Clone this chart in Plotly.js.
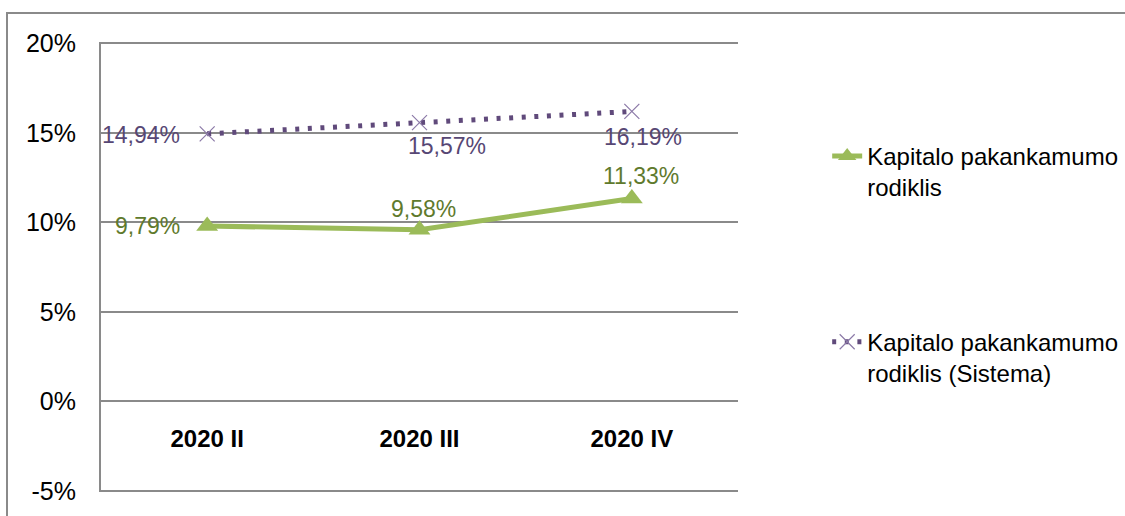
<!DOCTYPE html>
<html>
<head>
<meta charset="utf-8">
<script src="https://cdn.plot.ly/plotly-3.0.1.min.js"></script>
<style>
  html, body { margin: 0; padding: 0; background: #fff; }
  #chart { width: 1125px; height: 516px; }
</style>
</head>
<body>
<div id="chart"></div>
<script>
// ---- data ----
const categories = ['2020 II', '2020 III', '2020 IV'];
const bankValues = [9.79, 9.58, 11.33];
const systemValues = [14.94, 15.57, 16.19];
const seriesNames = ['Kapitalo pakankamumo<br>rodiklis', 'Kapitalo pakankamumo<br>rodiklis (Sistema)'];
const yTickValues = [-5, 0, 5, 10, 15, 20];
const yTickLabels = ['-5%', '0%', '5%', '10%', '15%', '20%'];

// ---- styles ----
const FONT = 'Liberation Sans, Arial, sans-serif';
const GREEN = '#9bbb59';
const GREEN_TXT = '#5f7a2d';
const PURPLE = '#604a7b';
const PURPLE_TXT = '#574774';
const GRID = '#8a8a8a';
const bankLabelShift = [[-60, 0], [4, 21], [9, 22]];
const systemLabelShift = [[-66, -1], [27, -23], [11, -26]];

const fmt = v => v.toFixed(2).replace('.', ',') + '%';

const traces = [
  {
    type: 'scatter', mode: 'lines+markers',
    x: categories, y: bankValues, name: seriesNames[0],
    line: { color: GREEN, width: 5 },
    marker: { symbol: 'triangle-up', size: 19, color: GREEN },
    legend: 'legend'
  },
  {
    type: 'scatter', mode: 'lines+markers',
    x: categories, y: systemValues, name: seriesNames[1],
    line: { color: PURPLE, width: 5, dash: '4px,8.6px' },
    marker: { symbol: 'x-thin', size: 15, color: '#8c7aa8', line: { color: '#8c7aa8', width: 1.2 } },
    legend: 'legend2'
  }
];

const annotations = [];
categories.forEach((c, i) => {
  annotations.push({
    x: c, y: bankValues[i], xref: 'x', yref: 'y', text: fmt(bankValues[i]),
    showarrow: false, xshift: bankLabelShift[i][0], yshift: bankLabelShift[i][1],
    font: { family: FONT, size: 23, color: GREEN_TXT }
  });
  annotations.push({
    x: c, y: systemValues[i], xref: 'x', yref: 'y', text: fmt(systemValues[i]),
    showarrow: false, xshift: systemLabelShift[i][0], yshift: systemLabelShift[i][1],
    font: { family: FONT, size: 23, color: PURPLE_TXT }
  });
});

const legendBase = {
  xanchor: 'left', yanchor: 'top', valign: 'top',
  bgcolor: 'rgba(0,0,0,0)', borderwidth: 0,
  font: { family: FONT, size: 24, color: '#000' }
};

const layout = {
  width: 1125, height: 516,
  margin: { l: 101, r: 387, t: 42, b: 24, pad: 0, autoexpand: false },
  paper_bgcolor: '#fff', plot_bgcolor: '#fff',
  font: { family: FONT, color: '#000' },
  showlegend: true,
  legend: Object.assign({}, legendBase, { x: 1.140, y: 0.796 }),
  legend2: Object.assign({}, legendBase, { x: 1.140, y: 0.383 }),
  xaxis: {
    type: 'category', range: [-0.5, 2.5],
    anchor: 'free', position: 0.2,
    showline: false, showgrid: false, zeroline: false,
    ticks: '', ticklabelstandoff: 20,
    tickfont: { family: FONT, size: 24, color: '#000', weight: 'bold' },
    fixedrange: true
  },
  yaxis: {
    range: [-5.07, 20.07], tickvals: yTickValues, ticktext: yTickLabels,
    showgrid: true, gridcolor: GRID, gridwidth: 2,
    zeroline: true, zerolinecolor: GRID, zerolinewidth: 2,
    showline: true, linecolor: GRID, linewidth: 2,
    ticks: '', ticklabelstandoff: 18,
    tickfont: { family: FONT, size: 25, color: '#000' },
    fixedrange: true
  },
  annotations: annotations,
  shapes: [
    { type: 'rect', xref: 'paper', yref: 'paper', x0: (7 - 101) / 637, x1: 2, y0: (492 - 13) / 450, y1: -0.5, line: { color: GRID, width: 2 }, fillcolor: 'rgba(0,0,0,0)' }
  ],
  hovermode: false
};

Plotly.newPlot('chart', traces, layout, { displayModeBar: false, staticPlot: true });
</script>
</body>
</html>
